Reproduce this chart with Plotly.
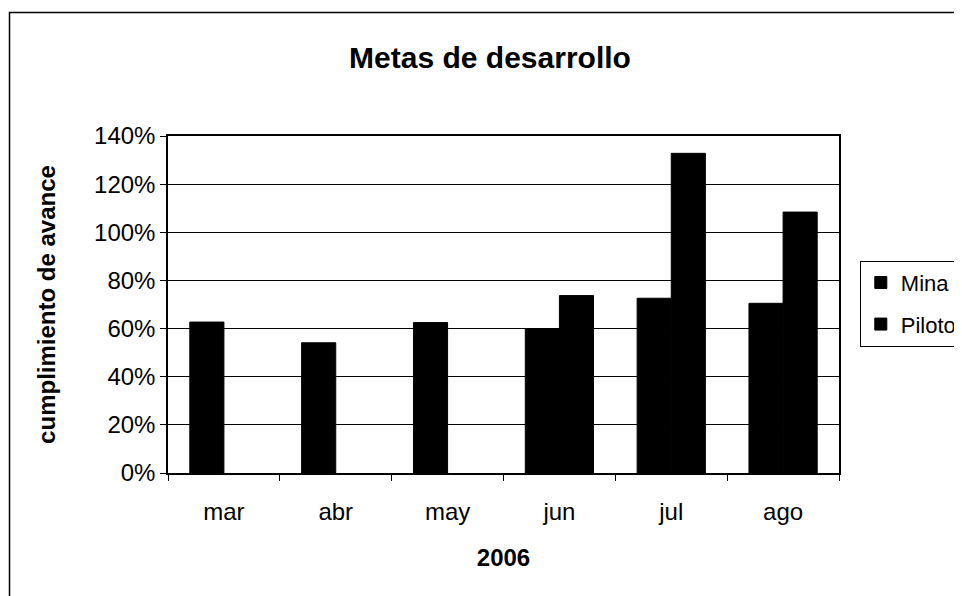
import plotly.graph_objects as go

months = ["mar", "abr", "may", "jun", "jul", "ago"]
mina = [0.627, 0.541, 0.625, 0.598, 0.726, 0.705]
piloto = [None, None, None, 0.737, 1.328, 1.084]
y_ticks = [0, 0.2, 0.4, 0.6, 0.8, 1.0, 1.2, 1.4]

FONT = "Liberation Sans, Arial, sans-serif"

fig = go.Figure()
fig.add_trace(go.Bar(name="Mina", x=months, y=mina, legendgroup="mina",
                     marker=dict(color="black", line=dict(color="black", width=1))))
fig.add_trace(go.Bar(name="Piloto", x=months, y=piloto, legendgroup="piloto",
                     marker=dict(color="black", line=dict(color="black", width=1))))

fig.update_layout(
    width=962, height=596,
    margin=dict(l=160, r=131, t=128, b=131, autoexpand=False),
    paper_bgcolor="white", plot_bgcolor="white",
    barmode="group", bargap=0.39, bargroupgap=0,
    font=dict(family=FONT, color="black", size=22),
    title=dict(text="<b>Metas de desarrollo</b>", x=(490 - 8 - 160) / 671, xref="paper",
               xanchor="center", y=1 - 49 / 596, yanchor="middle",
               font=dict(size=30, family=FONT, color="black")),
    showlegend=True,
    legend=dict(x=1.031, xanchor="left", y=0.63, yanchor="top",
                bordercolor="black", borderwidth=1, bgcolor="white",
                font=dict(size=22, family=FONT, color="black"),
                traceorder="grouped", tracegroupgap=10),
    shapes=[dict(type="rect", xref="paper", yref="paper",
                 x0=(1.5 - 160) / 671, x1=1.4, y0=-0.6, y1=(465 - 4.5) / 337,
                 line=dict(color="black", width=1.5), layer="below")],
)

fig.update_xaxes(
    automargin=False,
    showline=True, linecolor="black", linewidth=1.5, mirror=True,
    ticks="outside", tickson="boundaries", ticklen=6, tickcolor="black",
    tickfont=dict(size=24, family=FONT), ticklabelstandoff=16,
    title=dict(text="<b>2006</b>", font=dict(size=24, family=FONT), standoff=26),
    showgrid=False,
)
fig.update_yaxes(
    automargin=False,
    range=[0, 1.4], tickvals=y_ticks, tickformat=".0%",
    showline=True, linecolor="black", linewidth=1.5, mirror=True,
    ticks="outside", ticklen=6, tickcolor="black",
    tickfont=dict(size=24, family=FONT),
    showgrid=True, gridcolor="black", gridwidth=1,
    title=dict(text="<b>cumplimiento de avance</b>", font=dict(size=24, family=FONT), standoff=32),
    zeroline=False,
)

fig.write_html("out.html")
